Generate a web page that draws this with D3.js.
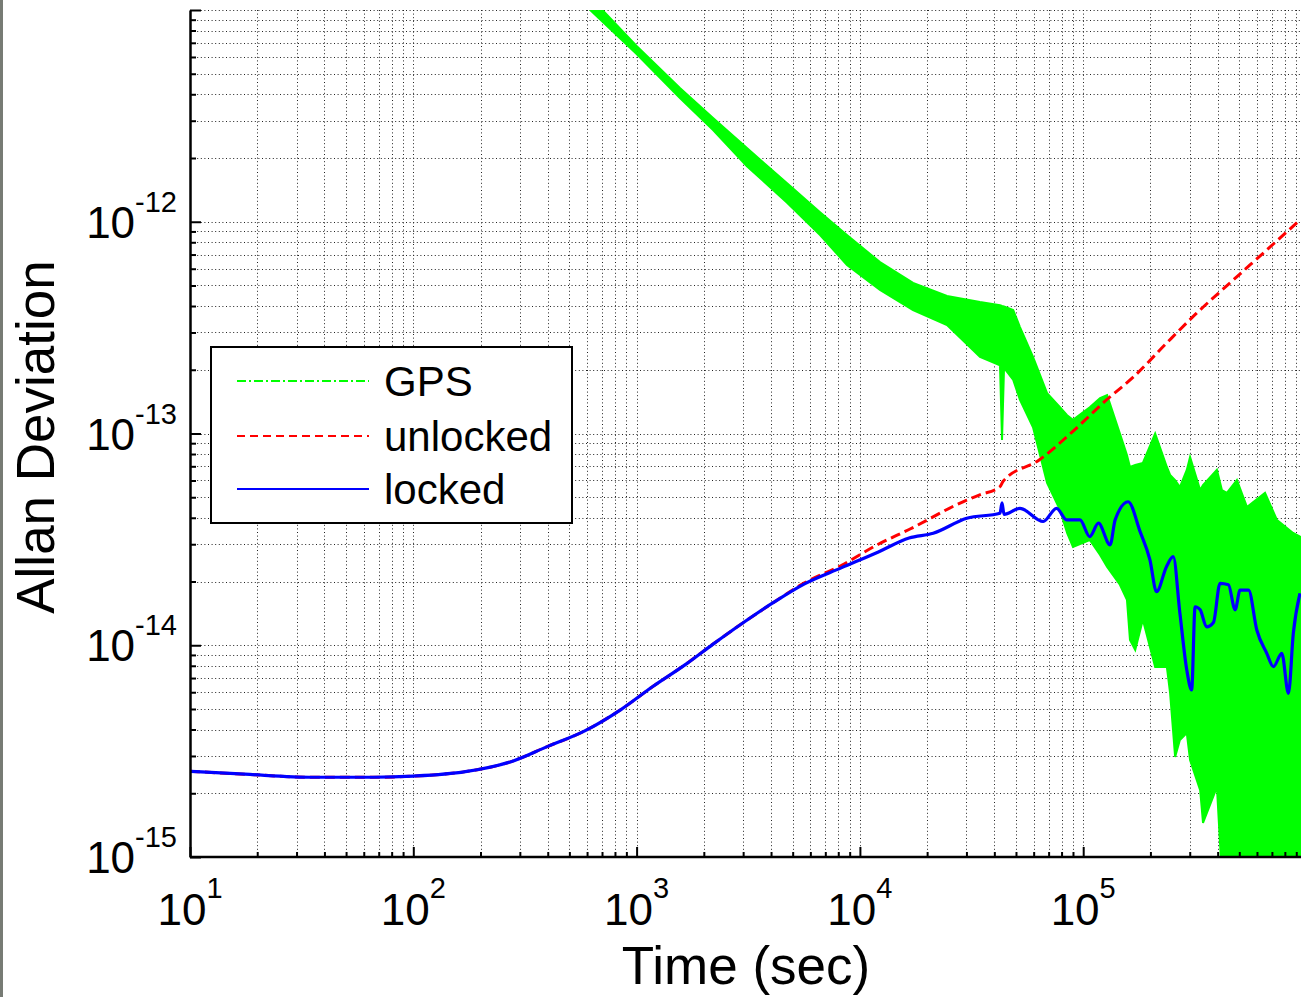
<!DOCTYPE html>
<html>
<head>
<meta charset="utf-8">
<script src="https://cdn.jsdelivr.net/npm/d3@7"></script>
<style>
body { margin: 0; background: #fff; overflow: hidden; }
svg { display: block; font-family: "Liberation Sans", Arial, sans-serif; }
</style>
</head>
<body>
<svg id="chart" width="1301" height="997"></svg>
<script>
// averaging time (s) and Allan deviation
var lockedTau = [10, 17.6, 35.8, 66, 100, 171, 274, 400, 583, 851, 1186, 1652, 2193, 2912, 4055, 5649, 8248,
  12030, 16600, 21300, 30100, 42400, 43300, 44200, 52100, 66200, 76000, 84300, 96700, 107000, 117000,
  132000, 139000, 159000, 180000, 199000, 213000, 236000, 253000, 271000, 291000, 306000, 317000, 334000,
  357000, 383000, 410000, 447000, 479000, 504000, 550000, 599000, 664000, 711000, 775000, 830000, 873000, 935000];
var lockedDev = [2.54e-15, 2.46e-15, 2.38e-15, 2.38e-15, 2.41e-15, 2.53e-15, 2.82e-15, 3.33e-15, 3.93e-15, 4.97e-15,
  6.40e-15, 8.1e-15, 1.01e-14, 1.25e-14, 1.58e-14, 1.95e-14, 2.32e-14,
  2.75e-14, 3.21e-14, 3.38e-14, 3.98e-14, 4.20e-14, 4.7e-14, 4.15e-14, 4.43e-14, 3.84e-14, 4.43e-14, 3.91e-14, 3.91e-14, 3.26e-14, 3.77e-14,
  2.98e-14, 3.91e-14, 4.76e-14, 3.43e-14, 2.53e-14, 1.79e-14, 2.35e-14, 2.62e-14, 1.42e-14, 7.64e-15, 6.15e-15, 1.52e-14, 1.47e-14,
  1.22e-14, 1.28e-14, 1.96e-14, 1.93e-14, 1.47e-14, 1.82e-14, 1.82e-14, 1.18e-14, 9.16e-15, 7.92e-15, 9.16e-15, 5.93e-15, 1.14e-14, 1.76e-14];

var unlockedTau = [10, 17.6, 35.8, 66, 100, 171, 274, 400, 583, 851, 1186, 1652, 2193, 2912, 4055, 5649, 8248,
  12030, 16600, 30100, 34400, 42400, 43800, 63500, 89600, 127000, 168000, 236000, 322000, 470000, 664000, 935000];
var unlockedDev = [2.54e-15, 2.46e-15, 2.38e-15, 2.38e-15, 2.41e-15, 2.53e-15, 2.82e-15, 3.33e-15, 3.93e-15, 4.97e-15,
  6.40e-15, 8.1e-15, 1.01e-14, 1.25e-14, 1.58e-14, 1.97e-14, 2.38e-14,
  2.99e-14, 3.52e-14, 4.85e-14, 5.13e-14, 5.61e-14, 5.95e-14, 7.5e-14, 1.02e-13, 1.44e-13, 1.85e-13, 2.67e-13, 3.70e-13, 5.31e-13, 7.36e-13, 1.02e-12];

// GPS is very noisy: upper and lower edge of the scatter
var gpsTau = [620, 1000, 1563, 2200, 3120, 4720, 6630, 8750, 12300, 17300, 24550, 34500, 42400, 43300, 44200,
  48600, 52100, 59600, 68900, 78700, 84700, 90000, 107000, 119000, 128000, 146000, 157000, 162000, 171000,
  185000, 210000, 237000, 245000, 258000, 271000, 291000, 301000, 334000, 344000, 397000, 418000, 440000,
  488000, 541000, 652000, 738000, 871000, 944000];
var gpsHigh = [1.15e-11, 6.76e-12, 4.28e-12, 3.09e-12, 2.23e-12, 1.52e-12, 1.11e-12, 8.65e-13, 6.45e-13, 5.14e-13, 4.46e-13, 4.18e-13, 4.04e-13, 4.0e-13, 3.98e-13,
  3.83e-13, 3.18e-13, 2.30e-13, 1.55e-13, 1.33e-13, 1.22e-13, 1.16e-13, 1.33e-13, 1.47e-13, 1.52e-13, 1.0e-13, 7.91e-14, 6.95e-14, 7.10e-14,
  7.26e-14, 1.0e-13, 6.95e-14, 6.37e-14, 6.03e-14, 5.58e-14, 6.73e-14, 7.74e-14, 5.41e-14, 5.71e-14, 6.73e-14, 5.41e-14, 5.24e-14,
  6.03e-14, 4.50e-14, 5.24e-14, 3.90e-14, 3.39e-14, 3.24e-14];
var gpsLow = [1.0e-11, 6.19e-12, 3.84e-12, 2.71e-12, 1.83e-12, 1.23e-12, 8.65e-13, 6.25e-13, 4.76e-13, 3.83e-13, 3.25e-13, 2.30e-13, 2.10e-13, 9.31e-14, 2.04e-13,
  1.79e-13, 1.44e-13, 1.07e-13, 5.84e-14, 4.36e-14, 3.39e-14, 2.91e-14, 3.14e-14, 2.67e-14, 2.34e-14, 1.93e-14, 1.64e-14, 1.06e-14, 9.5e-15,
  1.32e-14, 7.89e-15, 7.89e-15, 5.94e-15, 2.97e-15, 3.57e-15, 3.85e-15, 2.87e-15, 2.07e-15, 1.45e-15, 2.14e-15, 8e-16, 8e-16,
  8e-16, 8e-16, 8e-16, 8e-16, 8e-16, 8e-16];

var xMajor = [10, 100, 1000, 10000, 100000];
var xExp = ["1", "2", "3", "4", "5"];
var yMajor = [1e-15, 1e-14, 1e-13, 1e-12];
var yExp = ["-15", "-14", "-13", "-12"];
var seriesNames = ["GPS", "unlocked", "locked"];
var seriesColors = ["#00ff00", "#ff0000", "#0000ff"];

var margin = {top: 10, left: 190, bottom: 857, right: 1301};

var svg = d3.select("#chart");

svg.append("rect")
  .attr("width", 1301).attr("height", 997)
  .attr("fill", "#fff");
svg.append("rect")
  .attr("x", 0).attr("y", 0).attr("width", 3).attr("height", 997)
  .attr("fill", "#777b74");

var x = d3.scaleLog().domain([10, 1e6]).range([margin.left, 1306.5]);
var y = d3.scaleLog().domain([1e-15, 1e-11]).range([margin.bottom, margin.top]);

// dotted grid
var grid = svg.append("g").attr("class", "grid")
  .attr("stroke", "#222").attr("stroke-width", 1).attr("stroke-dasharray", "1,2.6");
grid.selectAll("line.gx").data(x.ticks().filter(d => x(d) > margin.left + 1 && x(d) < 1301))
  .enter().append("line").attr("class", "gx")
  .attr("x1", d => Math.round(x(d)) + 0.5).attr("x2", d => Math.round(x(d)) + 0.5)
  .attr("y1", margin.top).attr("y2", margin.bottom);
grid.selectAll("line.gy").data(y.ticks().filter(d => y(d) < margin.bottom - 1))
  .enter().append("line").attr("class", "gy")
  .attr("x1", margin.left).attr("x2", 1301)
  .attr("y1", d => Math.round(y(d)) + 0.5).attr("y2", d => Math.round(y(d)) + 0.5);

svg.append("clipPath").attr("id", "plotclip")
  .append("rect")
  .attr("x", margin.left).attr("y", margin.top)
  .attr("width", 1301 - margin.left).attr("height", margin.bottom - margin.top);

var plot = svg.append("g").attr("clip-path", "url(#plotclip)");

var gpsArea = d3.area()
  .x((d, i) => x(gpsTau[i]))
  .y0((d, i) => y(gpsLow[i]))
  .y1((d, i) => y(gpsHigh[i]));

plot.append("path")
  .attr("d", gpsArea(gpsTau))
  .attr("fill", seriesColors[0])
  .attr("stroke", seriesColors[0])
  .attr("stroke-width", 2);

var line = d3.line()
  .curve(d3.curveMonotoneX)
  .x(d => x(d[0]))
  .y(d => y(d[1]));

plot.append("path")
  .attr("d", line(unlockedTau.map((t, i) => [t, unlockedDev[i]])))
  .attr("fill", "none")
  .attr("stroke", seriesColors[1])
  .attr("stroke-width", 3)
  .attr("stroke-dasharray", "10,5");

plot.append("path")
  .attr("d", line(lockedTau.map((t, i) => [t, lockedDev[i]])))
  .attr("fill", "none")
  .attr("stroke", seriesColors[2])
  .attr("stroke-width", 3.2)
  .attr("stroke-linejoin", "round");

// axes: ticks point inward, major ticks longer
var isMajor = d => Math.abs(Math.log10(d) - Math.round(Math.log10(d))) < 1e-6;

svg.append("g")
  .attr("transform", "translate(0," + margin.bottom + ")")
  .call(d3.axisBottom(x).tickValues(x.ticks().filter(d => !isMajor(d))).tickSizeInner(-5).tickSizeOuter(0).tickFormat(""))
  .call(g => g.select(".domain").remove())
  .selectAll("line").attr("stroke", "#000").attr("stroke-width", 2);

svg.append("g")
  .attr("transform", "translate(0," + margin.bottom + ")")
  .call(d3.axisBottom(x).tickValues(xMajor).tickSizeInner(-10).tickSizeOuter(0).tickFormat(""))
  .call(g => g.select(".domain").attr("stroke-width", 2.5).attr("d", "M" + margin.left + ",0H1301"))
  .selectAll("line").attr("stroke", "#000").attr("stroke-width", 2);

svg.append("g")
  .attr("transform", "translate(" + margin.left + ",0)")
  .call(d3.axisLeft(y).tickValues(y.ticks().filter(d => !isMajor(d))).tickSizeInner(-6).tickSizeOuter(0).tickFormat(""))
  .call(g => g.select(".domain").remove())
  .selectAll("line").attr("stroke", "#000").attr("stroke-width", 2);

svg.append("g")
  .attr("transform", "translate(" + margin.left + ",0)")
  .call(d3.axisLeft(y).tickValues(yMajor.concat([1e-11])).tickSizeInner(-11).tickSizeOuter(0).tickFormat(""))
  .call(g => g.select(".domain").attr("stroke-width", 2.5))
  .selectAll("line").attr("stroke", "#000").attr("stroke-width", 2);

// tick labels with superscript exponents
var xl = svg.append("g").selectAll("text").data(xMajor).enter().append("text")
  .attr("x", d => x(d))
  .attr("y", 925)
  .attr("text-anchor", "middle")
  .attr("font-size", 44)
  .attr("fill", "#000");
xl.append("tspan").text("10");
xl.append("tspan").attr("font-size", 29).attr("dy", -27).text((d, i) => xExp[i]);

var yl = svg.append("g").selectAll("text").data(yMajor).enter().append("text")
  .attr("x", 177)
  .attr("y", d => y(d) + 16)
  .attr("text-anchor", "end")
  .attr("font-size", 44)
  .attr("fill", "#000");
yl.append("tspan").text("10");
yl.append("tspan").attr("font-size", 29).attr("dy", -26).text((d, i) => yExp[i]);

svg.append("text")
  .attr("x", 746)
  .attr("y", 984)
  .attr("text-anchor", "middle")
  .attr("font-size", 53)
  .text("Time (sec)");

svg.append("text")
  .attr("transform", "translate(54,437) rotate(-90)")
  .attr("text-anchor", "middle")
  .attr("font-size", 53)
  .text("Allan Deviation");

// legend
var legend = svg.append("g").attr("class", "legend");
legend.append("rect")
  .attr("x", 211).attr("y", 347)
  .attr("width", 361).attr("height", 176)
  .attr("fill", "#fff")
  .attr("stroke", "#000")
  .attr("stroke-width", 2);

var dashes = ["9,3,2,3", "8,5", null];
var rowY = [381, 436, 489];
legend.selectAll("g.item").data(seriesNames).enter().append("g")
  .attr("class", "item")
  .each(function(d, i) {
    var g = d3.select(this);
    g.append("line")
      .attr("x1", 237).attr("x2", 369)
      .attr("y1", rowY[i]).attr("y2", rowY[i])
      .attr("stroke", seriesColors[i])
      .attr("stroke-width", 2)
      .attr("stroke-dasharray", dashes[i]);
    g.append("text")
      .attr("x", 384)
      .attr("y", rowY[i] + 15)
      .attr("font-size", 42)
      .attr("fill", "#000")
      .text(d);
  });
</script>
</body>
</html>
